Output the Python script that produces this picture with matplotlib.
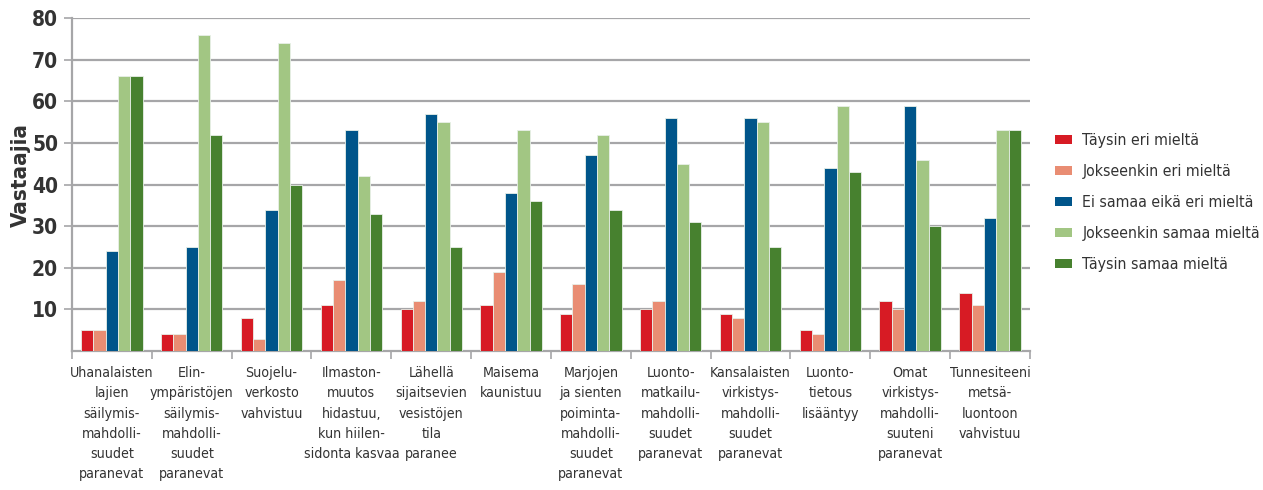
import matplotlib
matplotlib.use("Agg")
import matplotlib.pyplot as plt
import numpy as np
from matplotlib.patches import Patch

plt.rcParams['font.family'] = ['DejaVu Sans']
plt.rcParams['font.stretch'] = 'condensed'

categories = [
    "Uhanalaisten\nlajien\nsäilymis-\nmahdolli-\nsuudet\nparanevat",
    "Elin-\nympäristöjen\nsäilymis-\nmahdolli-\nsuudet\nparanevat",
    "Suojelu-\nverkosto\nvahvistuu",
    "Ilmaston-\nmuutos\nhidastuu,\nkun hiilen-\nsidonta kasvaa",
    "Lähellä\nsijaitsevien\nvesistöjen\ntila\nparanee",
    "Maisema\nkaunistuu",
    "Marjojen\nja sienten\npoiminta-\nmahdolli-\nsuudet\nparanevat",
    "Luonto-\nmatkailu-\nmahdolli-\nsuudet\nparanevat",
    "Kansalaisten\nvirkistys-\nmahdolli-\nsuudet\nparanevat",
    "Luonto-\ntietous\nlisääntyy",
    "Omat\nvirkistys-\nmahdolli-\nsuuteni\nparanevat",
    "Tunnesiteeni\nmetsä-\nluontoon\nvahvistuu",
]

series_names = [
    "Täysin eri mieltä",
    "Jokseenkin eri mieltä",
    "Ei samaa eikä eri mieltä",
    "Jokseenkin samaa mieltä",
    "Täysin samaa mieltä",
]

taysin_eri = [5, 4, 8, 11, 10, 11, 9, 10, 9, 5, 12, 14]
jokseenkin_eri = [5, 4, 3, 17, 12, 19, 16, 12, 8, 4, 10, 11]
ei_samaa_eika_eri = [24, 25, 34, 53, 57, 38, 47, 56, 56, 44, 59, 32]
jokseenkin_samaa = [66, 76, 74, 42, 55, 53, 52, 45, 55, 59, 46, 53]
taysin_samaa = [66, 52, 40, 33, 25, 36, 34, 31, 25, 43, 30, 53]

yticks = [10, 20, 30, 40, 50, 60, 70, 80]

colors = ["#D71B24", "#E98D73", "#00558A", "#A2C683", "#47812F"]
series = [taysin_eri, jokseenkin_eri, ei_samaa_eika_eri, jokseenkin_samaa, taysin_samaa]

fig = plt.figure(figsize=(12.63, 4.90), dpi=100)
ax = fig.add_axes([0.057, 0.2837, 0.7585, 0.6793])

x = np.arange(len(categories))
w = 0.154
for k, (vals, c) in enumerate(zip(series, colors)):
    ax.bar(x + (k - 2) * w, vals, width=w, color=c, edgecolor="#E8F0E8",
           linewidth=0.6, zorder=3)

ax.set_xlim(-0.5, len(categories) - 0.5)
ax.set_ylim(0, 80)
ax.set_yticks(yticks)
ax.grid(axis='y', color='#A6A6A8', linewidth=1.6, zorder=0)
ax.set_axisbelow(True)

text_color = "#333333"
ax.set_xticks(x)
ax.set_xticklabels(categories, fontsize=10.2, color=text_color, linespacing=1.56,
                   fontstretch='condensed')
ax.tick_params(axis='x', which='major', length=0, pad=11)
ax.set_xticks(np.arange(len(categories) + 1) - 0.5, minor=True)
ax.tick_params(axis='x', which='minor', length=6, color='#A6A6A8', width=1.2)

ax.tick_params(axis='y', length=6, color='#A6A6A8', width=1.2, labelsize=15,
               labelcolor=text_color, pad=4)
for lbl in ax.get_yticklabels():
    lbl.set_fontweight('bold')
    lbl.set_fontstretch('condensed')

for side in ['top', 'right']:
    ax.spines[side].set_visible(False)
for side in ['left', 'bottom']:
    ax.spines[side].set_color('#A6A6A8')
    ax.spines[side].set_linewidth(1.6)

ax.set_ylabel("Vastaajia", fontsize=16, fontweight='bold', color=text_color,
              fontstretch='condensed')
ax.yaxis.set_label_coords(-0.043, 0.53)

handles = [Patch(facecolor=c, edgecolor='none') for c in colors]
fig.legend(handles, series_names, loc='upper left', bbox_to_anchor=(0.8353, 0.728),
           frameon=False, prop={'size': 11.3, 'stretch': 'condensed'},
           handlelength=1.1, handleheight=0.5, borderaxespad=0, borderpad=0,
           labelspacing=1.02, handletextpad=0.64, labelcolor=text_color)

fig.savefig("out.png", dpi=100)
